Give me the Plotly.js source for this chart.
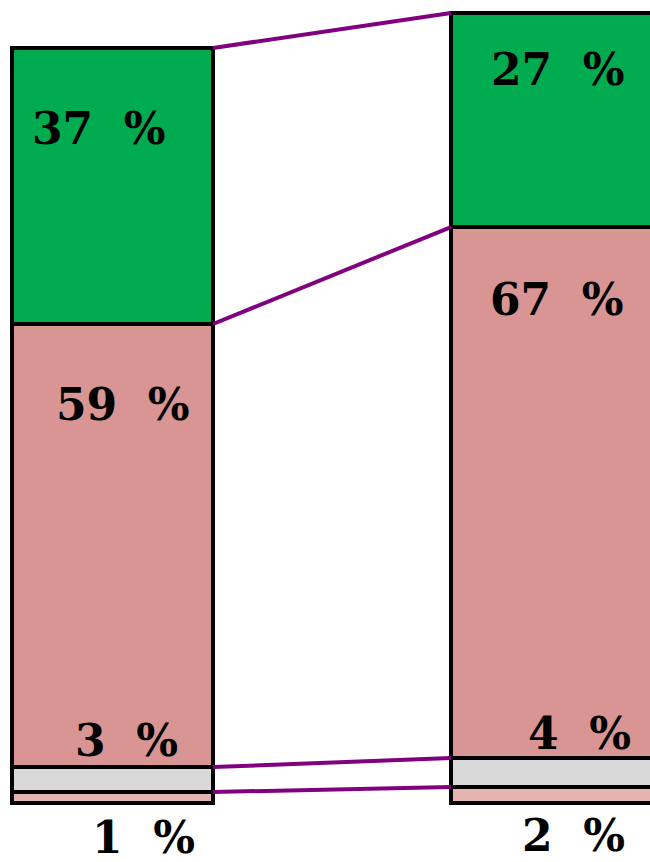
<!DOCTYPE html>
<html>
<head>
<meta charset="utf-8">
<script src="https://cdn.plot.ly/plotly-3.0.1.min.js"></script>
<style>html,body{margin:0;padding:0;background:#fff;}#chart{width:650px;height:862px;}</style>
</head>
<body>
<div id="chart"></div>
<script>
// Data (segment heights, bottom to top)
const groups = [0, 1];
const segmentNames = ["Part 1", "Part 2", "Part 3", "Part 4"];
const leftValues  = [1.46, 3.31, 58.68, 36.56];
const rightValues = [2.12, 3.84, 70.33, 28.34];
const leftLabels  = ["1 %", "3 %", "59 %", "37 %"];
const rightLabels = ["2 %", "4 %", "67 %", "27 %"];

const colors = ["#e6b3b3", "#d9d9d9", "#d99594", "#00ac4f"];
const barWidth = 0.458;

const traces = [];
segmentNames.forEach((name, i) => {
  traces.push({
    type: "bar",
    name: name,
    x: groups,
    y: [leftValues[i], rightValues[i]],
    width: barWidth,
    marker: { color: colors[i], line: { color: "#000", width: 3.5 } },
    hoverinfo: "skip",
    showlegend: false
  });
});

// connectors between segment tops
const cum = arr => { let s = 0; return arr.map(v => (s += v)); };
const leftTop = cum(leftValues), rightTop = cum(rightValues);
segmentNames.forEach((name, i) => {
  traces.push({
    type: "scatter", mode: "lines",
    x: [groups[0] + barWidth / 2, groups[1] - barWidth / 2],
    y: [leftTop[i], rightTop[i]],
    line: { color: "#800080", width: 4 },
    hoverinfo: "skip", showlegend: false
  });
});

const font = { family: "DejaVu Serif", size: 44, color: "#000", weight: "bold" };
const fmt = s => s.replace(" ", "\u00a0\u00a0");
// label placement (pixel offsets): [anchor value, xshift, yshift]
const leftPlace  = [[0, 31, -34], [leftTop[1], 14, 27], [leftTop[2], 10, -81], [leftTop[3], -14, -81]];
const rightPlace = [[0, 22, -32], [rightTop[1], 28, 25], [rightTop[2], 6, -72], [rightTop[3], 7, -56]];
const annotations = [];
leftLabels.forEach((t, i) => annotations.push({
  x: groups[0], y: leftPlace[i][0], xref: "x", yref: "y", text: fmt(t), showarrow: false,
  xanchor: "center", yanchor: "middle", xshift: leftPlace[i][1], yshift: leftPlace[i][2], font: font
}));
rightLabels.forEach((t, i) => annotations.push({
  x: groups[1], y: rightPlace[i][0], xref: "x", yref: "y", text: fmt(t), showarrow: false,
  xanchor: "center", yanchor: "middle", xshift: rightPlace[i][1], yshift: rightPlace[i][2], font: font
}));

const layout = {
  width: 650, height: 862,
  margin: { l: 0, r: 0, t: 0, b: 0 },
  barmode: "stack",
  paper_bgcolor: "#fff", plot_bgcolor: "#fff",
  xaxis: { range: [-0.2563, 1.2244], visible: false, fixedrange: true },
  yaxis: { range: [-7.81, 106.36], visible: false, fixedrange: true },
  annotations: annotations,
  showlegend: false
};

Plotly.newPlot("chart", traces, layout, { staticPlot: true, displayModeBar: false });
</script>
</body>
</html>
